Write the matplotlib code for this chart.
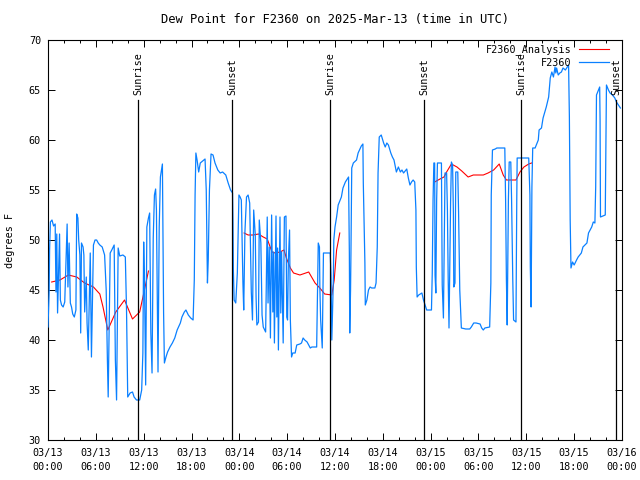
import numpy as np
import matplotlib
matplotlib.use('Agg')
import matplotlib.pyplot as plt

# time axis: hours since 2025-03-13 00:00 UTC
obs_hours = [0.0, 0.15, 0.2, 0.3, 0.5, 0.7, 0.9, 1.0, 1.1, 1.2, 1.45, 1.55, 1.7, 1.9, 2.1, 2.4, 2.5, 2.65, 2.8, 2.95,
             3.1, 3.3, 3.5, 3.6, 3.75, 3.85, 4.0, 4.1, 4.2, 4.4, 4.5, 4.6, 4.8, 4.9, 5.05, 5.3, 5.45, 5.7, 5.9, 6.1,
             6.3, 6.5, 6.8, 7.1, 7.3, 7.45, 7.55, 7.8, 8.0, 8.3, 8.45, 8.6, 8.8, 9.0, 9.4, 9.7, 9.85, 10.0, 10.3, 10.6,
             10.8, 11.1, 11.5, 11.75, 11.9, 12.0, 12.1, 12.25, 12.4, 12.6, 12.75, 12.9, 13.05, 13.2, 13.35, 13.5, 13.6,
             13.8, 13.95, 14.1, 14.25, 14.35, 14.5, 14.6, 14.8, 15.0, 15.3, 15.6, 15.9, 16.2, 16.6, 16.8, 17.1, 17.3,
             17.6, 17.9, 18.2, 18.35, 18.45, 18.55, 18.7, 18.9, 19.1, 19.4, 19.7, 19.85, 19.95, 20.0, 20.1, 20.25,
             20.45, 20.7, 20.95, 21.3, 21.6, 21.9, 22.3, 22.6, 22.9, 23.15,
             23.2, 23.25, 23.35, 23.55, 23.75, 23.95, 24.1, 24.25, 24.45, 24.55, 24.7, 24.9, 25.1, 25.3, 25.5, 25.65,
             25.8, 26.0, 26.1, 26.2, 26.4, 26.5, 26.7, 26.85, 27.0, 27.3, 27.5, 27.6, 27.75, 27.9, 28.05, 28.2, 28.3,
             28.4, 28.6, 28.7, 28.8, 28.9, 29.1, 29.2, 29.3, 29.5, 29.65, 29.85, 29.95, 30.05, 30.15, 30.3, 30.4,
             30.55, 30.7, 31.0, 31.2, 31.6, 31.8, 32.0, 32.2, 32.5, 32.9, 33.1, 33.7, 33.8, 33.9, 34.05, 34.1, 34.2,
             34.4, 34.55, 34.8, 35.4, 35.5, 35.6,
             35.8, 35.85, 36.0, 36.2, 36.4, 36.8, 37.0, 37.3, 37.7, 37.8, 37.85, 37.95, 38.0, 38.1, 38.3, 38.7, 38.9,
             39.3, 39.5, 39.55, 39.75, 39.8, 40.0, 40.2, 40.4, 40.6, 41.0, 41.15, 41.3, 41.4, 41.55, 41.8, 42.1, 42.3,
             42.5, 42.7, 43.0, 43.2, 43.4, 43.7, 43.95, 44.2, 44.4, 44.6, 45.0, 45.2, 45.4, 45.6, 45.8, 46.0, 46.15,
             46.2, 46.3, 46.5, 46.9, 47.1, 47.3, 47.5, 47.9, 48.1,
             48.2, 48.3, 48.4, 48.5, 48.55, 48.65, 48.75, 48.85, 49.35, 49.45, 49.6, 49.8, 50.0, 50.1, 50.2, 50.3,
             50.5, 50.6, 50.75, 50.85, 50.9, 51.05, 51.15, 51.4, 51.5, 51.65, 51.85, 52.4, 52.9, 53.1, 53.4, 53.7,
             54.2, 54.4, 54.6, 54.8, 55.4, 55.55, 55.6, 55.75, 56.1, 56.3, 57.3, 57.4, 57.5, 57.6, 57.75, 57.85,
             58.05, 58.15, 58.3, 58.4, 58.7, 58.8, 58.85, 60.3,
             60.45, 60.5, 60.6, 60.7, 60.8, 61.1, 61.5, 61.6, 61.9, 62.1, 62.5, 62.8, 63.0, 63.2, 63.4, 63.6, 63.7,
             63.8, 64.0, 64.2, 64.4, 64.6, 64.9, 65.3, 65.4, 65.5, 65.6, 65.8, 66.0, 66.3, 66.5, 66.9, 67.1, 67.6,
             67.8, 68.2, 68.4, 68.6, 68.7, 68.8, 69.2, 69.25, 69.3, 69.9, 70.0, 70.05, 70.3, 70.5, 70.8, 71.1, 71.3,
             71.8]
obs_dewpt = [41.3, 45.0, 49.0, 51.8, 52.0, 51.4, 51.6, 44.8, 50.6, 42.7, 50.6, 44.0, 43.5, 43.3, 43.8, 51.6, 45.3,
             49.7, 43.7, 43.3, 42.6, 42.3, 43.0, 52.6, 52.2, 50.0, 48.5, 40.7, 49.7, 49.3, 48.5, 42.8, 46.3, 41.7,
             39.0, 48.7, 38.3, 49.5, 50.0, 50.0, 49.7, 49.5, 49.3, 48.5, 45.0, 38.0, 34.3, 48.7, 49.0, 49.5, 38.0,
             34.0, 49.2, 48.4, 48.5, 48.3, 43.0, 34.3, 34.7, 34.8, 34.3, 34.0, 34.0, 35.0, 38.7, 49.8, 46.2, 35.5,
             51.3, 52.2, 52.7, 40.7, 36.7, 50.2, 54.5, 55.1, 53.0, 36.8, 51.3, 56.3, 57.1, 57.6, 42.7, 37.7, 38.3,
             38.8, 39.3, 39.7, 40.2, 41.0, 41.7, 42.3, 42.8, 43.0, 42.5, 42.2, 42.0, 46.0, 54.5, 58.7, 58.0, 56.8,
             57.7, 57.9, 58.1, 55.0, 48.8, 45.7, 48.0, 55.0, 58.6, 58.5, 57.7, 57.0, 56.7, 56.8, 56.5, 55.7, 55.0,
             54.7,
             52.0, 47.0, 44.0, 43.7, 46.7, 54.5, 54.3, 54.0, 45.7, 43.0, 50.8, 54.3, 54.5, 53.7, 44.8, 42.0, 53.0,
             50.5, 44.3, 41.5, 41.8, 52.0, 49.7, 42.5, 41.3, 40.8, 52.3, 43.7, 49.3, 40.2, 52.5, 42.8, 48.8, 39.7,
             52.4, 42.3, 49.2, 39.0, 52.3, 42.7, 48.8, 39.7, 52.3, 52.4, 42.3, 42.0, 48.0, 51.0, 42.0, 38.3, 38.7,
             38.7, 39.5, 39.6, 39.7, 40.2, 40.0, 39.8, 39.2, 39.3, 39.3, 44.7, 49.7, 49.3, 45.3, 42.0, 39.2, 48.7,
             48.7, 48.7, 46.5, 40.0,
             46.3, 50.0, 51.3, 52.3, 53.5, 54.3, 55.2, 55.8, 56.3, 48.7, 40.7, 45.0, 48.7, 57.2, 57.7, 58.0, 58.7,
             59.4, 59.6, 55.7, 47.7, 43.5, 44.0, 45.0, 45.3, 45.2, 45.2, 45.7, 49.3, 56.7, 60.3, 60.5, 59.7, 59.3,
             59.7, 59.5, 58.7, 58.3, 58.0, 56.8, 57.3, 56.8, 57.0, 56.7, 57.1, 56.2, 55.5, 55.8, 56.0, 55.8, 53.0,
             47.3, 44.3, 44.5, 44.7, 44.0, 43.5, 43.0, 43.0, 43.0,
             46.7, 54.0, 57.7, 57.7, 46.5, 44.7, 54.0, 57.7, 57.7, 45.5, 42.2, 56.7, 56.7, 53.0, 46.0, 41.2, 53.8,
             57.8, 57.5, 52.7, 45.3, 45.7, 56.8, 56.8, 52.8, 45.0, 41.2, 41.1, 41.1, 41.3, 41.7, 41.7, 41.6, 41.2,
             41.0, 41.2, 41.3, 45.7, 54.5, 59.0, 59.1, 59.2, 59.2, 54.0, 46.0, 41.5, 54.0, 57.8, 57.8, 54.0, 46.0,
             42.0, 41.8, 54.0, 58.2, 58.2,
             54.5, 47.3, 43.3, 55.3, 59.2, 59.2, 60.0, 61.0, 61.2, 62.2, 63.3, 64.3, 66.2, 66.8, 66.3, 67.3, 66.7,
             67.2, 66.5, 66.7, 66.8, 67.2, 67.0, 67.5, 62.3, 52.0, 47.2, 47.8, 47.5, 48.0, 48.3, 48.7, 49.3, 49.7,
             50.7, 51.3, 51.8, 51.7, 55.3, 64.5, 65.3, 62.0, 52.3, 52.5, 61.0, 65.5, 65.0, 64.7, 64.5, 64.2, 63.8,
             63.2]

# analysis, NaN marks the gaps between the three runs
ana_hours = [0.46, 1.5, 2.55, 3.6, 4.6, 5.7, 6.5, 6.9, 7.5, 8.5, 9.6, 10.6, 11.5, 12.1, 12.6, np.nan,
             24.6, 25.1, 25.76, 26.4, 27.0, 27.5, 28.1, 28.5, 29.1, 29.6, 29.9, 30.4, 30.8, 31.6, 32.7, 33.5,
             34.1, 34.7, 35.6, 35.9, 36.2, 36.6, np.nan,
             48.5, 49.17, 49.67, 50.0, 50.6, 51.3, 51.9, 52.7, 53.35, 54.6, 55.2, 55.9, 56.6, 57.1, 57.5, 58.7,
             59.2, 59.7, 60.3, 60.66]
ana_dewpt = [45.8, 46.0, 46.5, 46.3, 45.7, 45.3, 44.6, 43.3, 41.0, 42.8, 44.0, 42.1, 42.8, 45.0, 46.9, np.nan,
             50.7, 50.5, 50.5, 50.6, 50.3, 50.1, 48.8, 48.7, 48.8, 49.0, 48.2, 47.2, 46.7, 46.5, 46.8, 45.7,
             45.2, 44.6, 44.5, 46.0, 49.0, 50.7, np.nan,
             55.8, 56.1, 56.3, 56.8, 57.6, 57.3, 56.9, 56.3, 56.5, 56.5, 56.7, 57.0, 57.6, 56.5, 56.0, 56.0,
             56.8, 57.3, 57.6, 57.7]

sun_hours = [11.33, 23.12, 35.37, 47.2, 59.33, 71.25]
sun_labels = ['Sunrise', 'Sunset', 'Sunrise', 'Sunset', 'Sunrise', 'Sunset']

tick_hours = list(range(0, 73, 6))
tick_labels = ['03/13\n00:00', '03/13\n06:00', '03/13\n12:00', '03/13\n18:00',
               '03/14\n00:00', '03/14\n06:00', '03/14\n12:00', '03/14\n18:00',
               '03/15\n00:00', '03/15\n06:00', '03/15\n12:00', '03/15\n18:00',
               '03/16\n00:00']

plt.rcParams['font.family'] = 'DejaVu Sans Mono'
plt.rcParams['font.size'] = 7.3

fig = plt.figure(figsize=(6.4, 4.8), dpi=100)
ax = fig.add_axes([48 / 640, 40 / 480, 574 / 640, 400 / 480])

ax.plot(ana_hours, ana_dewpt, color='red', lw=0.8, label='F2360_Analysis', zorder=2)
ax.plot(obs_hours, obs_dewpt, color='#0a80ff', lw=0.9, label='F2360', zorder=3)

for h, lab in zip(sun_hours, sun_labels):
    ax.plot([h, h], [30, 64], color='black', lw=0.9, zorder=4)
    ax.text(h, 64.5, lab, rotation=90, ha='center', va='bottom')

ax.set_xlim(0, 72)
ax.set_ylim(30, 70)
ax.set_xticks(tick_hours)
ax.set_xticklabels(tick_labels, linespacing=1.45)
ax.set_xticks(range(0, 73, 2), minor=True)
ax.set_yticks(range(30, 71, 5))
ax.tick_params(which='both', direction='in', top=True, right=True, width=0.7)
ax.tick_params(which='major', length=5)
ax.tick_params(which='minor', length=2.5)
ax.tick_params(axis='x', pad=6)
ax.tick_params(axis='y', pad=5)
for s in ax.spines.values():
    s.set_linewidth(0.8)

ax.set_title('Dew Point for F2360 on 2025-Mar-13 (time in UTC)', pad=12)
ax.set_ylabel('degrees F', labelpad=10)

ax.legend(loc='upper right', bbox_to_anchor=(0.985, 1.0), frameon=False, markerfirst=False,
          handlelength=3.0, handletextpad=0.7, labelspacing=0.3, borderaxespad=0, borderpad=0.4)

fig.savefig('out.png', dpi=100)
